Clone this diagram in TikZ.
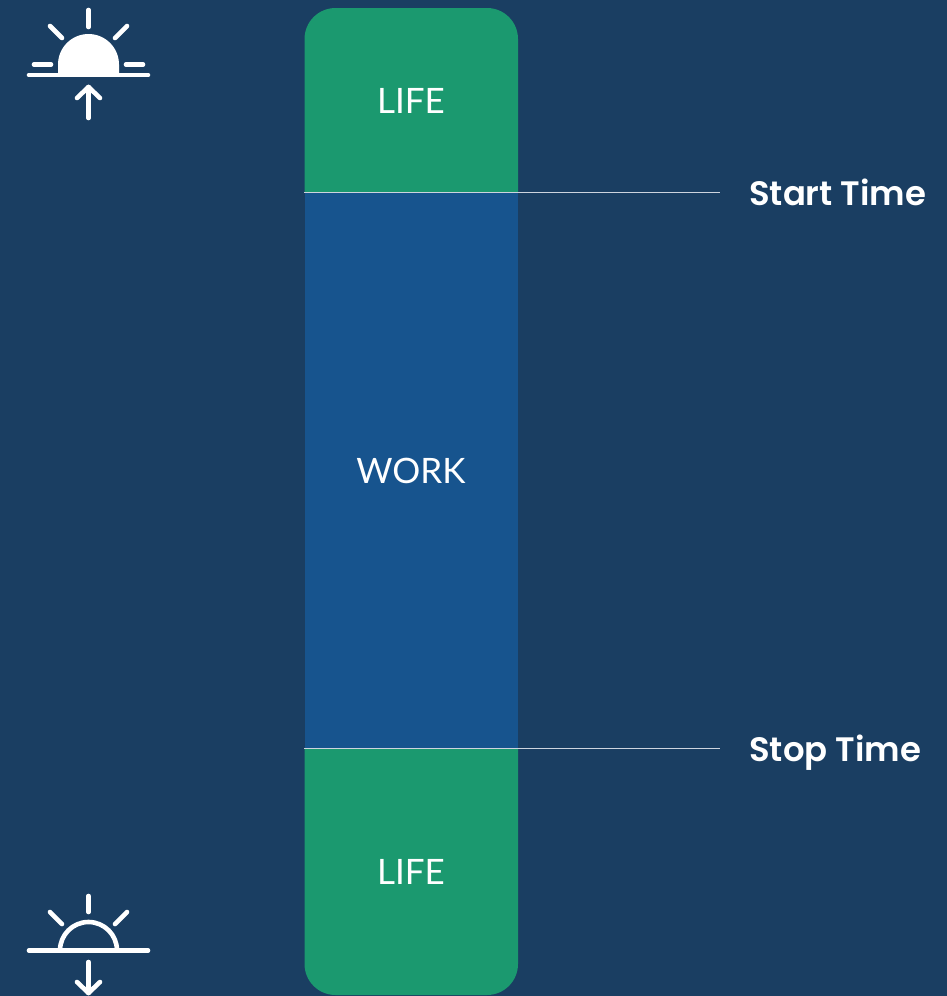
\documentclass[tikz,border=0pt]{standalone}
\usepackage{fontspec}
\setmainfont{Lato}
\newfontfamily\timefont{Poppins SemiBold}
\definecolor{nightblue}{RGB}{26,62,98}
\definecolor{lifegreen}{RGB}{27,153,111}
\definecolor{workblue}{RGB}{23,84,142}
\definecolor{rulegrey}{RGB}{205,212,222}
\tikzset{
  sunline/.style={draw=white, line width=4.6pt, line cap=round, line join=round},
  blocktext/.style={text=white, font=\fontsize{35}{35}\selectfont},
  timetext/.style={text=white, anchor=base west, inner sep=0pt, font=\fontsize{33.9}{33.9}\timefont\selectfont},
  timerule/.style={draw=rulegrey, line width=1.5pt}
}
\begin{document}
\begin{tikzpicture}[x=1pt, y=-1pt]
\useasboundingbox[fill=nightblue] (0,0) rectangle (947,996);

% the three blocks
\fill[lifegreen] (304.5,192.5) -- (304.5,100) [rounded corners=31pt] -- (304.5,8) -- (518,8) -- (518,100) [sharp corners] -- (518,192.5) -- cycle;
\fill[lifegreen] (304.5,748.3) -- (304.5,850) [rounded corners=31pt] -- (304.5,995) -- (518,995) -- (518,850) [sharp corners] -- (518,748.3) -- cycle;
\node[fill=workblue, rectangle, inner sep=0pt, minimum width=213.5pt, minimum height=555.8pt] (work) at (411.25,470.4) {};

\node[blocktext] (lifetop) at (411,101) {LIFE};
\node[blocktext] (worktext) at (411,471) {WORK};
\node[blocktext] (lifebottom) at (411,872) {LIFE};

% start and stop lines
\coordinate (endx) at (720,0);
\coordinate (startend) at (endx |- work.north west);
\coordinate (stopend) at (endx |- work.south west);
\draw[timerule] (work.north west) -- (startend);
\draw[timerule] (work.south west) -- (stopend);
\node[timetext] (start) at (749,205) {Start Time};
\node[timetext] (stop) at (749,761) {Stop Time};

% sunrise
\fill[white] (58,75) -- (58,64.5) arc[start angle=180, end angle=0, radius=30.5pt] -- (119,75) -- cycle;
\draw[sunline] (29,75) -- (148,75);
\draw[sunline] (88.5,10) -- (88.5,27);
\draw[sunline] (50,26) -- (62,38);
\draw[sunline] (127,26) -- (115,38);
\draw[sunline] (34,64.5) -- (51,64.5);
\draw[sunline] (126,64.5) -- (143,64.5);
\draw[sunline] (88.5,118) -- (88.5,87);
\draw[sunline] (77,98) -- (88.5,87) -- (100,98);

% sunset
\draw[sunline, line cap=butt] (60,950.5) arc[start angle=180, end angle=0, radius=28.5pt];
\draw[sunline] (29,950.5) -- (148,950.5);
\draw[sunline] (88.5,896) -- (88.5,912);
\draw[sunline] (50,912) -- (62,924);
\draw[sunline] (127,912) -- (115,924);
\draw[sunline] (88.5,962) -- (88.5,993);
\draw[sunline] (77,982) -- (88.5,993) -- (100,982);
\end{tikzpicture}
\end{document}
